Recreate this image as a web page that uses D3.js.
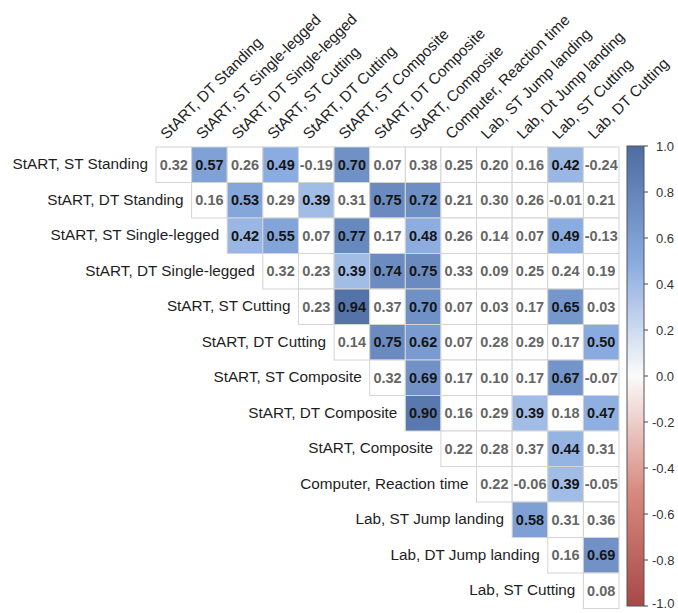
<!DOCTYPE html>
<html lang="en">
	<head>
		<meta charset="utf-8">
		<title>Correlation matrix</title>
		<script type="text/javascript" src="https://cdn.jsdelivr.net/npm/d3@7"></script>
		<style type="text/css">
			body { margin: 0; background: #fff; }
			text { font-family: "Liberation Sans", Arial, sans-serif; }
		</style>
	</head>
	<body>
		<script type="text/javascript">

			//Row and column labels
			let rowLabels = ["StART, ST Standing", "StART, DT Standing", "StART, ST Single-legged", "StART, DT Single-legged",
				"StART, ST Cutting", "StART, DT Cutting", "StART, ST Composite", "StART, DT Composite", "StART, Composite",
				"Computer, Reaction time", "Lab, ST Jump landing", "Lab, DT Jump landing", "Lab, ST Cutting"];
			let colLabels = ["StART, DT Standing", "StART, ST Single-legged", "StART, DT Single-legged", "StART, ST Cutting",
				"StART, DT Cutting", "StART, ST Composite", "StART, DT Composite", "StART, Composite",
				"Computer, Reaction time", "Lab, ST Jump landing", "Lab, Dt Jump landing", "Lab, ST Cutting", "Lab, DT Cutting"];

			//Correlations, row i starts at column i
			let corrRows = [
				[0.32, 0.57, 0.26, 0.49, -0.19, 0.70, 0.07, 0.38, 0.25, 0.20, 0.16, 0.42, -0.24],
				[0.16, 0.53, 0.29, 0.39, 0.31, 0.75, 0.72, 0.21, 0.30, 0.26, -0.01, 0.21],
				[0.42, 0.55, 0.07, 0.77, 0.17, 0.48, 0.26, 0.14, 0.07, 0.49, -0.13],
				[0.32, 0.23, 0.39, 0.74, 0.75, 0.33, 0.09, 0.25, 0.24, 0.19],
				[0.23, 0.94, 0.37, 0.70, 0.07, 0.03, 0.17, 0.65, 0.03],
				[0.14, 0.75, 0.62, 0.07, 0.28, 0.29, 0.17, 0.50],
				[0.32, 0.69, 0.17, 0.10, 0.17, 0.67, -0.07],
				[0.90, 0.16, 0.29, 0.39, 0.18, 0.47],
				[0.22, 0.28, 0.37, 0.44, 0.31],
				[0.22, -0.06, 0.39, -0.05],
				[0.58, 0.31, 0.36],
				[0.16, 0.69],
				[0.08]
			];

			//Significant cells (column indices) for each row
			let sigCols = [
				[1, 3, 5, 11],
				[2, 4, 6, 7],
				[2, 3, 5, 7, 11],
				[5, 6, 7],
				[5, 7, 11],
				[6, 7, 12],
				[7, 11],
				[7, 10, 12],
				[11],
				[11],
				[10],
				[12],
				[]
			];

			let legendTicks = [1.0, 0.8, 0.6, 0.4, 0.2, 0.0, -0.2, -0.4, -0.6, -0.8, -1.0];

			let w = 678;
			let h = 613;

			//Build cell list
			let cells = [];
			corrRows.forEach((row, i) => {
				row.forEach((v, k) => {
					let j = i + k;
					cells.push({ row: i, col: j, value: v, sig: sigCols[i].includes(j) });
				});
			});

			let idx = d3.range(13);
			let x = d3.scaleBand().domain(idx).range([156, 619]);
			let y = d3.scaleBand().domain(idx).range([147, 608.5]);

			let color = d3.scaleLinear()
				.domain([-1, -0.5, 0, 0.5, 1])
				.range(["#a84848", "#d88a80", "#fbfbfb", "#88aadf", "#4d6ca0"]);

			let fmt = v => v.toFixed(2);

			let svg = d3.select("body")
				.append("svg")
				.attr("width", w)
				.attr("height", h);

			//Cells
			svg.selectAll("rect.cell")
				.data(cells)
				.enter()
				.append("rect")
				.attr("class", "cell")
				.attr("x", d => x(d.col))
				.attr("y", d => y(d.row))
				.attr("width", x.bandwidth())
				.attr("height", y.bandwidth())
				.style("fill", d => d.sig ? color(d.value) : "#ffffff")
				.style("stroke", "#d4d4d4")
				.style("stroke-width", 1);

			//Cell values
			svg.selectAll("text.val")
				.data(cells)
				.enter()
				.append("text")
				.attr("class", "val")
				.attr("x", d => x(d.col) + x.bandwidth() / 2)
				.attr("y", d => y(d.row) + y.bandwidth() / 2)
				.attr("dy", "0.35em")
				.attr("text-anchor", "middle")
				.style("font-size", "14.5px")
				.style("font-weight", "bold")
				.style("fill", d => d.sig ? "#151515" : "#666666")
				.text(d => fmt(d.value));

			//Row labels
			svg.selectAll("text.rowlab")
				.data(rowLabels)
				.enter()
				.append("text")
				.attr("class", "rowlab")
				.attr("x", (d, i) => x(i) - 8)
				.attr("y", (d, i) => y(i) + y.bandwidth() / 2)
				.attr("dy", "0.28em")
				.attr("text-anchor", "end")
				.style("font-size", "15.3px")
				.style("fill", "#1e1e1e")
				.text(d => d);

			//Column labels
			svg.selectAll("text.collab")
				.data(colLabels)
				.enter()
				.append("text")
				.attr("class", "collab")
				.attr("transform", (d, i) => `translate(${x(i) + x.bandwidth() / 2 - 7},140) rotate(-45)`)
				.style("font-size", "15.3px")
				.style("fill", "#1e1e1e")
				.text(d => d);

			//Colour bar
			let ly = d3.scaleLinear().domain([1, -1]).range([146, 606]);
			let defs = svg.append("defs");
			let grad = defs.append("linearGradient")
				.attr("id", "cbar")
				.attr("x1", 0).attr("y1", 0).attr("x2", 0).attr("y2", 1);
			grad.selectAll("stop")
				.data(d3.range(0, 1.0001, 0.05))
				.enter()
				.append("stop")
				.attr("offset", d => d)
				.attr("stop-color", d => color(1 - 2 * d));

			svg.append("rect")
				.attr("x", 627)
				.attr("y", ly(1))
				.attr("width", 17)
				.attr("height", ly(-1) - ly(1))
				.style("fill", "url(#cbar)")
				.style("stroke", "#555")
				.style("stroke-width", 1);

			svg.selectAll("line.ltick")
				.data(legendTicks)
				.enter()
				.append("line")
				.attr("class", "ltick")
				.attr("x1", 644)
				.attr("x2", 648)
				.attr("y1", d => ly(d))
				.attr("y2", d => ly(d))
				.style("stroke", "#444");

			svg.selectAll("text.llab")
				.data(legendTicks)
				.enter()
				.append("text")
				.attr("class", "llab")
				.attr("x", d => d < 0 ? 652 : 656)
				.attr("y", d => Math.min(ly(d), 603))
				.attr("dy", "0.35em")
				.style("font-size", "13px")
				.style("fill", "#333")
				.text(d => d.toFixed(1));

		</script>
	</body>
</html>
